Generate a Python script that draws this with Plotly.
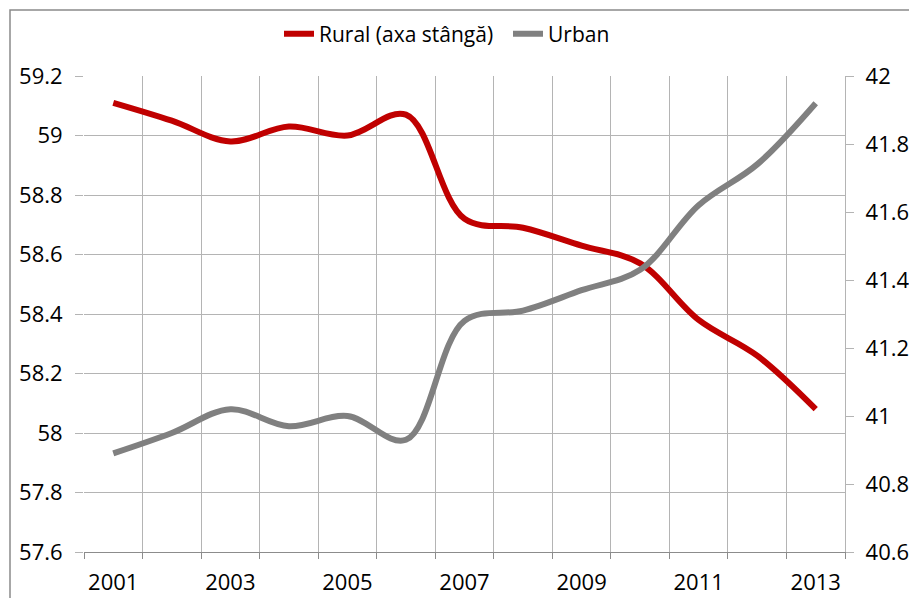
import plotly.graph_objects as go

years = [2001, 2002, 2003, 2004, 2005, 2006, 2007, 2008, 2009, 2010, 2011, 2012, 2013]
rural = [59.11, 59.05, 58.98, 59.03, 59.00, 59.07, 58.72, 58.69, 58.63, 58.57, 58.38, 58.26, 58.08]
urban = [40.89, 40.95, 41.02, 40.97, 41.00, 40.93, 41.28, 41.31, 41.37, 41.43, 41.62, 41.74, 41.92]
x_labels = [2001, 2003, 2005, 2007, 2009, 2011, 2013]
left_ticks = [57.6, 57.8, 58.0, 58.2, 58.4, 58.6, 58.8, 59.0, 59.2]
right_ticks = [40.6, 40.8, 41.0, 41.2, 41.4, 41.6, 41.8, 42.0]
names = ["Rural (axa stângă)", "Urban"]

FONT = "Open Sans"
GRID = "#b4b4b4"
AXIS = "#8c8c8c"

# the page body keeps its default 8px margin; the figure is sized to fill the rest
W, H = 909, 590
L, R, T, B = 76, 72, 68, 46
PW, PH = W - L - R, H - T - B

fig = go.Figure()
fig.add_trace(go.Scatter(x=years, y=rural, name=names[0], mode="lines",
                         line=dict(color="#c00000", width=6, shape="spline", smoothing=1.0),
                         yaxis="y"))
fig.add_trace(go.Scatter(x=years, y=urban, name=names[1], mode="lines",
                         line=dict(color="#808080", width=6, shape="spline", smoothing=1.0),
                         yaxis="y2"))

fig.update_layout(
    width=W, height=H,
    margin=dict(l=L, r=R, t=T, b=B, autoexpand=False),
    paper_bgcolor="white", plot_bgcolor="white",
    font=dict(family=FONT, size=22, color="#000000"),
    showlegend=True,
    legend=dict(orientation="h", x=(279 - 84) / PW, y=1.088, xanchor="left", yanchor="middle",
                font=dict(family=FONT, size=21, color="#000000"),
                itemwidth=30, tracegroupgap=0, bgcolor="rgba(0,0,0,0)",
                entrywidth=184, entrywidthmode="pixels"),
    xaxis=dict(
        range=[years[0] - 0.5, years[-1] + 0.5],
        tickvals=x_labels, ticktext=[str(v) for v in x_labels],
        ticks="", showgrid=False, zeroline=False, automargin=False,
        showline=True, linecolor=AXIS, linewidth=1.3,
        ticklabelstandoff=10,
        minor=dict(tickvals=[y - 0.5 for y in years] + [years[-1] + 0.5],
                   ticks="outside", ticklen=6, tickcolor=AXIS,
                   showgrid=True, gridcolor=GRID, gridwidth=1.3),
    ),
    yaxis=dict(
        range=[left_ticks[0], left_ticks[-1]], tickvals=left_ticks,
        ticktext=[f"{v:g}" for v in left_ticks], automargin=False,
        showgrid=True, gridcolor=GRID, gridwidth=1.3, zeroline=False,
        ticks="outside", ticklen=8, tickcolor=GRID,
        showline=False, ticklabelstandoff=8,
    ),
    yaxis2=dict(
        range=[right_ticks[0], right_ticks[-1]], tickvals=right_ticks,
        ticktext=[f"{v:g}" for v in right_ticks], automargin=False,
        overlaying="y", side="right", showgrid=False, zeroline=False,
        ticks="outside", ticklen=8, tickcolor=GRID,
        showline=True, linecolor=GRID, linewidth=1.3, ticklabelstandoff=7,
    ),
    shapes=[dict(type="rect", xref="paper", yref="paper",
                 x0=(10 - 8 - L) / PW, x1=1.2, y0=-0.2, y1=(H - B - 2) / PH,
                 line=dict(color="#8a8a8a", width=1.5), fillcolor="rgba(0,0,0,0)", layer="below")],
)

fig.write_html("out.html")
